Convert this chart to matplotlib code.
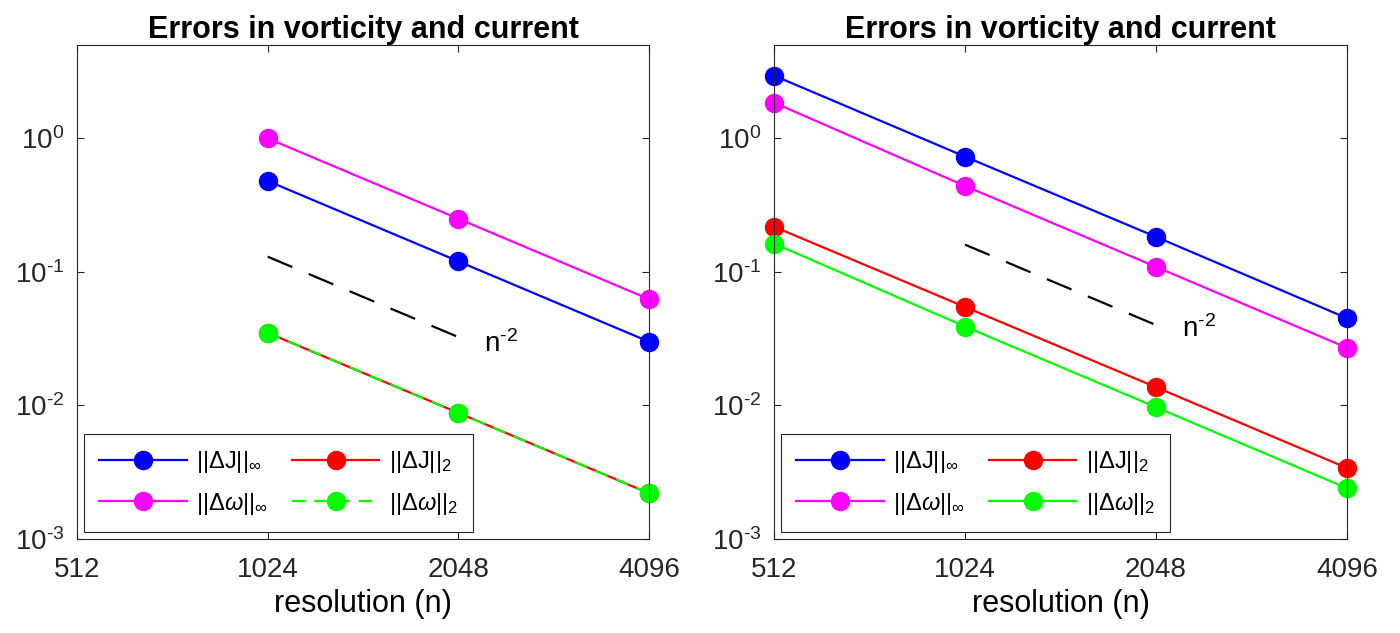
import matplotlib
matplotlib.use("Agg")
import matplotlib.pyplot as plt
from matplotlib.ticker import FixedLocator, FixedFormatter, NullLocator

plt.rcParams.update({
    "font.family": "Liberation Sans",
    "mathtext.fontset": "custom",
    "mathtext.rm": "Liberation Sans",
    "mathtext.it": "Liberation Sans:italic",
    "mathtext.bf": "Liberation Sans:bold",
    "axes.unicode_minus": False,
    "axes.edgecolor": "#262626",
    "xtick.color": "#262626",
    "ytick.color": "#262626",
})

# -----------------------
# Data
# -----------------------
res_left = [1024, 2048, 4096]
res_right = [512, 1024, 2048, 4096]

left_J_inf = [0.48, 0.12, 0.030]
left_w_inf = [1.0, 0.25, 0.0625]
left_J_2 = [0.035, 0.0088, 0.0022]
left_w_2 = [0.035, 0.0088, 0.0022]

right_J_inf = [2.95, 0.73, 0.183, 0.045]
right_w_inf = [1.85, 0.44, 0.109, 0.027]
right_J_2 = [0.218, 0.0546, 0.0137, 0.0034]
right_w_2 = [0.163, 0.039, 0.0097, 0.0024]

ref_n = [1024, 2048]
left_ref = [0.13, 0.0325]
right_ref = [0.16, 0.04]

x_ticks = [512, 1024, 2048, 4096]
x_tick_labels = ["512", "1024", "2048", "4096"]
y_ticks = [1e-3, 1e-2, 1e-1, 1e0]
y_tick_labels = [r"$10^{\text{-}3}$", r"$10^{\text{-}2}$",
                 r"$10^{\text{-}1}$", r"$10^{0}$"]

labels = [
    r"$||\Delta \mathrm{J}||_\infty$",
    r"$||\Delta \omega||_\infty$",
    r"$||\Delta \mathrm{J}||_2$",
    r"$||\Delta \omega||_2$",
]

W, H = 1400, 633


def draw(ax, n, J_inf, w_inf, J_2, w_2, ref, label_pos, green_dashed):
    kw = dict(marker="o", markersize=13, lw=1.6, clip_on=False)
    h1, = ax.plot(n, J_inf, color="#0000ff", **kw)
    h2, = ax.plot(n, w_inf, color="#ff00ff", **kw)
    h3, = ax.plot(n, J_2, color="#ff0000", **kw)
    if green_dashed:
        h4, = ax.plot(n, w_2, color="#00ff00", ls=(0, (6, 4)), **kw)
    else:
        h4, = ax.plot(n, w_2, color="#00ff00", **kw)

    ax.plot(ref_n, ref, color="black", lw=1.6, ls=(0, (12, 8)))
    ax.text(label_pos[0], label_pos[1], r"n$^{\text{-}2}$", fontsize=20,
            va="center")

    ax.set_xscale("log", base=2)
    ax.set_yscale("log")
    ax.set_xlim(512, 4096)
    ax.set_ylim(1e-3, 5)
    ax.xaxis.set_major_locator(FixedLocator(x_ticks))
    ax.xaxis.set_major_formatter(FixedFormatter(x_tick_labels))
    ax.xaxis.set_minor_locator(NullLocator())
    ax.yaxis.set_major_locator(FixedLocator(y_ticks))
    ax.yaxis.set_major_formatter(FixedFormatter(y_tick_labels))
    ax.yaxis.set_minor_locator(NullLocator())
    ax.tick_params(direction="in", top=True, right=True, length=5, width=0.8,
                   labelsize=20)
    ax.tick_params(axis="x", pad=13)
    ax.tick_params(axis="y", pad=9)

    ax.set_xlabel("resolution (n)", fontsize=22, labelpad=4)
    ax.set_title("Errors in vorticity and current", fontsize=22,
                 fontweight="bold", pad=5)

    leg = ax.legend([h1, h2, h3, h4], labels, loc="lower left", ncol=2,
                    fontsize=17, handlelength=3.7, columnspacing=1.0,
                    fancybox=False, framealpha=1, edgecolor="#262626",
                    borderaxespad=0.3, labelspacing=0.65, handletextpad=0.4,
                    borderpad=0.65)
    leg.get_frame().set_linewidth(0.8)


fig = plt.figure(figsize=(W / 100, H / 100), dpi=100)

ax_l = fig.add_axes([77 / W, 1 - 539 / H, 572 / W, 494 / H])
ax_r = fig.add_axes([774 / W, 1 - 539 / H, 573 / W, 494 / H])

draw(ax_l, res_left, left_J_inf, left_w_inf, left_J_2, left_w_2,
     left_ref, (2245, 0.029), True)
draw(ax_r, res_right, right_J_inf, right_w_inf, right_J_2, right_w_2,
     right_ref, (2250, 0.037), False)

fig.savefig("out.png", dpi=100)
